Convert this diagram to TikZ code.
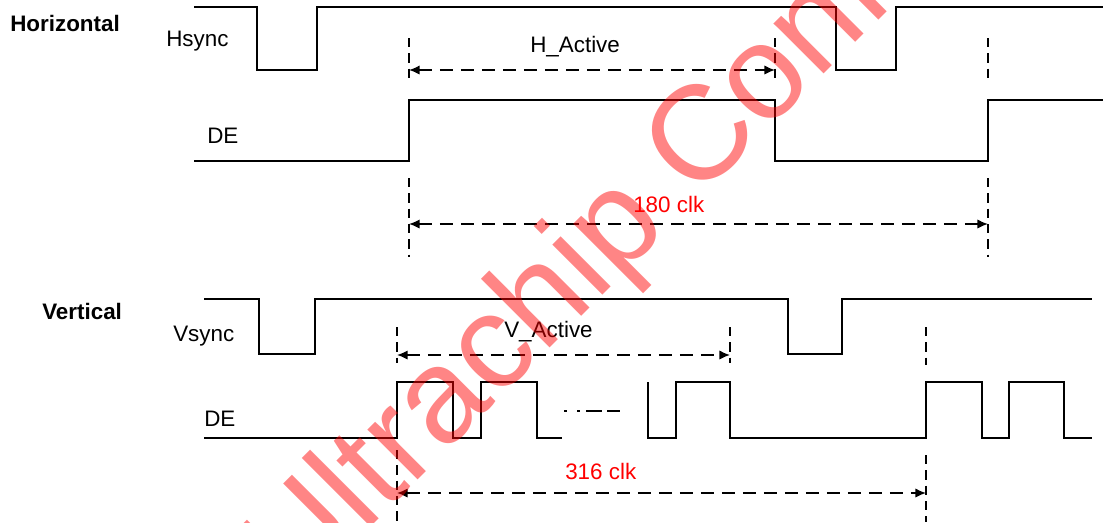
\documentclass[tikz,border=0pt]{standalone}
\usepackage{fontspec}
\setmainfont{Liberation Sans}
\usetikzlibrary{arrows.meta}
\begin{document}
\begin{tikzpicture}[x=0.75pt,y=-0.75pt,
  sig/.style={line width=1.1pt, line join=miter},
  guide/.style={line width=1.1pt, dash pattern=on 7pt off 4.5pt},
  dim/.style={line width=1.1pt, dash pattern=on 9.75pt off 6pt,
    {Latex[length=8pt,width=7pt]}-{Latex[length=8pt,width=7pt]}},
  lbl/.style={font=\fontsize{16.8}{20}\selectfont, inner sep=0pt, anchor=base west},
  hdr/.style={lbl, font=\fontsize{16.8}{20}\selectfont\bfseries},
  clk/.style={lbl, text=red},
  wmark/.style={rotate=45, anchor=base west, inner sep=0pt, text=red, opacity=0.48,
    font=\fontsize{100.5}{120}\selectfont}]
\useasboundingbox (0,0) rectangle (1103,522);
\clip (0,0) rectangle (1103,522);

% ---------- Horizontal ----------
\node[hdr] (th) at (10,31) {Horizontal};
\node[lbl] (ths) at (166,46) {Hsync};
\node[lbl] (thd) at (207,143) {DE};
\node[lbl] (tha) at (530,52) {H\_Active};
\node[clk] (thc) at (633,212) {180 clk};

\draw[sig] (194,7) -- (257,7) -- (257,70) -- (317,70) -- (317,7) -- (836,7)
  -- (836,70) -- (896,70) -- (896,7) -- (1103,7);
\draw[sig] (194,161) -- (409,161) -- (409,100) -- (775,100) -- (775,161)
  -- (988,161) -- (988,100) -- (1103,100);

\draw[guide] (409,38) -- (409,83);
\draw[guide] (409,178) -- (409,257);
\draw[guide] (775,38) -- (775,83);
\draw[guide] (988,38) -- (988,83);
\draw[guide] (988,178) -- (988,257);

\coordinate (ha1) at (409,70);
\coordinate (ha2) at (775,70);
\coordinate (hc1) at (409,224);
\coordinate (hc2) at (988,224);
\draw[dim] (ha1) -- (ha2);
\draw[dim] (hc1) -- (hc2);

% ---------- Vertical ----------
\node[hdr] (tv) at (42,319) {Vertical};
\node[lbl] (tvs) at (173,341) {Vsync};
\node[lbl] (tvd) at (204,426) {DE};
\node[lbl] (tva) at (504,337) {V\_Active};
\node[clk] (tvc) at (565,479) {316 clk};

\draw[sig] (204,299) -- (259,299) -- (259,354) -- (315,354) -- (315,299) -- (788,299)
  -- (788,354) -- (842,354) -- (842,299) -- (1092,299);
\draw[sig] (204,438) -- (397,438) -- (397,382) -- (453,382) -- (453,438) -- (481,438)
  -- (481,382) -- (537,382) -- (537,438) -- (562,438);
\draw[sig] (648,382) -- (648,438) -- (676,438) -- (676,382) -- (730,382) -- (730,438)
  -- (926,438) -- (926,382) -- (982,382) -- (982,438) -- (1009,438) -- (1009,382)
  -- (1064,382) -- (1064,438) -- (1092,438);
\draw[sig] (564,411) -- (567,411) (577,411) -- (580,411) (586,411) -- (602,411)
  (607,411) -- (620,411);

\draw[guide] (397,327) -- (397,363);
\draw[guide] (397,450) -- (397,522);
\draw[guide] (730,327) -- (730,363);
\draw[guide] (926,327) -- (926,365);
\draw[guide] (926,455) -- (926,522);

\coordinate (va1) at (397,355);
\coordinate (va2) at (730,355);
\coordinate (vc1) at (397,493);
\coordinate (vc2) at (926,493);
\draw[dim] (va1) -- (va2);
\draw[dim] (vc1) -- (vc2);

% ---------- watermark ----------
\node[wmark] (wm) at (296,602) {Ultrachip Confidential};
\end{tikzpicture}
\end{document}
